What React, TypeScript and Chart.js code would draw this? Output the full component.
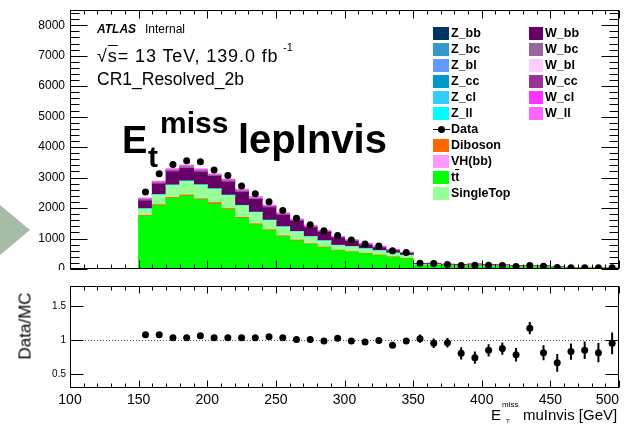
import React, { useEffect, useRef } from 'react';
import { Chart, registerables } from 'chart.js';

Chart.register(...registerables);

const FONT = '"Liberation Sans", Arial, Helvetica, sans-serif';
Chart.defaults.font.family = FONT;
Chart.defaults.color = '#000';

// ---------------- data ----------------
const binCenters = [105, 115, 125, 135, 145, 155, 165, 175, 185, 195, 205, 215, 225, 235, 245, 255, 265, 275, 285, 295, 305, 315, 325, 335, 345, 355, 365, 375, 385, 395, 405, 415, 425, 435, 445, 455, 465, 475, 485, 495];

const ttbar = [0, 0, 0, 0, 0, 1725, 2077, 2309, 2390, 2269, 2122, 1950, 1662, 1451, 1258, 1060, 920, 800, 696, 598, 546, 493, 436, 380, 330, 118, 122, 101, 92, 105, 91, 85, 70, 63, 72, 49, 31, 34, 32, 31];
const diboson = [0, 0, 0, 0, 0, 28, 30, 33, 35, 32, 55, 30, 30, 28, 25, 24, 24, 22, 20, 15, 17, 18, 18, 15, 13, 4, 4, 3, 3, 3, 3, 2, 2, 2, 2, 1, 1, 1, 1, 1];
const singleTop = [0, 0, 0, 0, 0, 210, 317, 396, 444, 444, 437, 428, 380, 369, 304, 286, 271, 228, 196, 155, 163, 142, 135, 116, 99, 27, 28, 23, 21, 24, 21, 20, 16, 15, 17, 11, 7, 8, 7, 7];
const zbb = [0, 0, 0, 0, 0, 4, 5, 6, 6, 6, 5, 5, 5, 5, 4, 4, 4, 4, 3, 3, 3, 3, 3, 3, 2, 1, 1, 1, 1, 1, 1, 1, 0, 0, 0, 0, 0, 0, 0, 0];
const zbc = [0, 0, 0, 0, 0, 2, 2, 3, 3, 3, 2, 2, 2, 2, 2, 2, 2, 2, 2, 1, 1, 1, 1, 1, 1, 0, 0, 0, 0, 0, 0, 0, 0, 0, 0, 0, 0, 0, 0, 0];
const zbl = [0, 0, 0, 0, 0, 3, 3, 4, 4, 4, 3, 3, 3, 3, 3, 3, 3, 2, 2, 2, 2, 2, 2, 2, 1, 0, 0, 0, 0, 0, 0, 0, 0, 0, 0, 0, 0, 0, 0, 0];
const zcc = [0, 0, 0, 0, 0, 3, 4, 4, 5, 4, 4, 4, 4, 4, 3, 3, 3, 3, 3, 2, 2, 2, 2, 2, 2, 1, 1, 0, 0, 0, 0, 0, 0, 0, 0, 0, 0, 0, 0, 0];
const zcl = [0, 0, 0, 0, 0, 3, 3, 4, 4, 4, 3, 3, 3, 3, 3, 3, 3, 3, 2, 2, 2, 2, 2, 2, 2, 0, 0, 0, 0, 0, 0, 0, 0, 0, 0, 0, 0, 0, 0, 0];
const zll = [0, 0, 0, 0, 0, 2, 2, 3, 3, 3, 3, 2, 2, 2, 2, 2, 2, 2, 2, 1, 1, 1, 1, 1, 1, 0, 0, 0, 0, 0, 0, 0, 0, 0, 0, 0, 0, 0, 0, 0];
const wbb = [0, 0, 0, 0, 0, 251, 340, 423, 403, 405, 404, 424, 424, 409, 403, 370, 330, 286, 272, 236, 167, 110, 90, 72, 56, 22, 23, 19, 17, 19, 17, 16, 13, 12, 13, 9, 6, 6, 6, 6];
const wbc = [0, 0, 0, 0, 0, 30, 32, 36, 38, 36, 28, 32, 32, 32, 28, 26, 24, 22, 20, 16, 16, 18, 18, 15, 12, 2, 2, 2, 2, 3, 2, 2, 2, 1, 2, 1, 1, 1, 1, 1];
const wbl = [0, 0, 0, 0, 0, 6, 5, 6, 6, 6, 4, 6, 6, 6, 5, 5, 5, 4, 4, 3, 3, 4, 4, 3, 3, 1, 1, 1, 1, 1, 1, 1, 0, 0, 0, 0, 0, 0, 0, 0];
const wcc = [0, 0, 0, 0, 0, 12, 11, 13, 13, 13, 8, 12, 12, 12, 10, 10, 10, 9, 8, 6, 7, 8, 8, 6, 6, 1, 2, 1, 2, 2, 1, 1, 1, 1, 1, 1, 0, 1, 0, 0];
const wcl = [0, 0, 0, 0, 0, 18, 17, 19, 19, 19, 12, 17, 17, 18, 16, 15, 14, 14, 12, 10, 10, 12, 12, 10, 8, 2, 2, 2, 2, 2, 2, 2, 2, 2, 2, 2, 1, 1, 1, 1];
const wll = [0, 0, 0, 0, 0, 22, 24, 26, 26, 26, 20, 24, 24, 22, 20, 20, 18, 18, 16, 12, 12, 14, 14, 11, 10, 1, 1, 1, 1, 1, 1, 1, 1, 1, 1, 1, 1, 1, 1, 0];
const vhbb = [0, 0, 0, 0, 0, 12, 13, 14, 15, 14, 10, 12, 12, 12, 10, 10, 9, 9, 8, 6, 6, 6, 6, 5, 4, 1, 1, 1, 1, 1, 1, 1, 1, 0, 0, 0, 0, 0, 0, 0];

const dataCounts = [null, null, null, null, null, 2525, 3125, 3431, 3551, 3518, 3245, 3072, 2723, 2473, 2211, 1917, 1667, 1449, 1253, 1100, 948, 817, 752, 599, 545, 186, 180, 150, 115, 120, 120, 115, 85, 115, 90, 50, 40, 45, 40, 45];

const ratio = [null, null, null, null, null, 1.083, 1.083, 1.04, 1.04, 1.07, 1.04, 1.04, 1.04, 1.04, 1.055, 1.04, 1.015, 1.015, 0.99, 1.03, 0.99, 0.977, 1.0, 0.93, 0.99, 1.025, 0.957, 0.967, 0.81, 0.745, 0.855, 0.88, 0.79, 1.18, 0.817, 0.67, 0.836, 0.855, 0.82, 0.957];
const ratioErr = [null, null, null, null, null, 0.02, 0.02, 0.02, 0.02, 0.02, 0.02, 0.02, 0.02, 0.02, 0.02, 0.02, 0.02, 0.02, 0.02, 0.02, 0.03, 0.03, 0.03, 0.035, 0.04, 0.06, 0.07, 0.07, 0.09, 0.09, 0.09, 0.09, 0.1, 0.09, 0.11, 0.13, 0.12, 0.13, 0.14, 0.16];

const yTopTicks = [0, 1000, 2000, 3000, 4000, 5000, 6000, 7000, 8000];
const yRatioTicks = [0.5, 1, 1.5];
const xTicks = [100, 150, 200, 250, 300, 350, 400, 450, 500];

// stacking order, bottom -> top
const samples = [
  { label: 'tt', data: ttbar, color: '#00ff00' },
  { label: 'Diboson', data: diboson, color: '#ff6600' },
  { label: 'SingleTop', data: singleTop, color: '#99ff99' },
  { label: 'Z_ll', data: zll, color: '#00ffff' },
  { label: 'Z_cl', data: zcl, color: '#33ccff' },
  { label: 'Z_cc', data: zcc, color: '#0099cc' },
  { label: 'Z_bl', data: zbl, color: '#6699ff' },
  { label: 'Z_bc', data: zbc, color: '#3399cc' },
  { label: 'Z_bb', data: zbb, color: '#003366' },
  { label: 'W_bb', data: wbb, color: '#660066' },
  { label: 'W_bc', data: wbc, color: '#996699' },
  { label: 'W_cc', data: wcc, color: '#993399' },
  { label: 'W_bl', data: wbl, color: '#ffccff' },
  { label: 'W_cl', data: wcl, color: '#ff33ff' },
  { label: 'W_ll', data: wll, color: '#ff66ff' },
  { label: 'VH(bb)', data: vhbb, color: '#ff99ff' },
];

const colorOf = (name: string) => samples.find((s) => s.label === name)!.color;

// ---------------- plugins ----------------
function frameTicks(cfg: any) {
  return {
    id: 'frameTicks',
    afterDraw(chart: any) {
      const { ctx, chartArea: a } = chart;
      const xs = chart.scales.x;
      const ys = chart.scales.y;
      const L = Math.round(a.left) + 0.5;
      const R = Math.round(a.right) - 0.5;
      const T = Math.round(a.top) + 0.5;
      const B = Math.round(a.bottom) - 0.5;
      const vals = (min: number, max: number, step: number) => {
        const out: number[] = [];
        const n0 = Math.ceil(min / step - 1e-9);
        const n1 = Math.floor(max / step + 1e-9);
        for (let n = n0; n <= n1; n++) out.push(n * step);
        return out;
      };
      const isMul = (v: number, s: number) => Math.abs(v / s - Math.round(v / s)) < 1e-6;
      ctx.save();
      ctx.strokeStyle = '#000';
      ctx.lineWidth = 1;
      ctx.beginPath();
      for (const v of vals(xs.min, xs.max, cfg.xMinor)) {
        const len = isMul(v, cfg.xMajor) ? cfg.xMajLen : cfg.xMinLen;
        const px = Math.round(xs.getPixelForValue(v)) + 0.5;
        ctx.moveTo(px, B);
        ctx.lineTo(px, B - len);
        ctx.moveTo(px, T);
        ctx.lineTo(px, T + len);
      }
      for (const v of vals(ys.min, ys.max, cfg.yMinor)) {
        const major = isMul(v, cfg.yMajor);
        if (!major && !cfg.drawYMinor) continue;
        const py = Math.round(ys.getPixelForValue(v)) + 0.5;
        const lenL = major ? cfg.yMajLenL : cfg.yMinLenL;
        const lenR = major ? cfg.yMajLenR : cfg.yMinLenR;
        ctx.moveTo(L, py);
        ctx.lineTo(L + lenL, py);
        ctx.moveTo(R, py);
        ctx.lineTo(R - lenR, py);
      }
      ctx.stroke();
      ctx.strokeRect(L, T, R - L, B - T);
      ctx.restore();
    },
  };
}

const ratioExtras = {
  id: 'ratioExtras',
  beforeDatasetsDraw(chart: any) {
    const { ctx, chartArea: a } = chart;
    const ys = chart.scales.y;
    const py = Math.round(ys.getPixelForValue(1)) + 0.5;
    ctx.save();
    ctx.strokeStyle = '#555';
    ctx.lineWidth = 1;
    ctx.setLineDash([1, 2]);
    ctx.beginPath();
    ctx.moveTo(a.left, py);
    ctx.lineTo(a.right, py);
    ctx.stroke();
    ctx.restore();
  },
  afterDatasetsDraw(chart: any) {
    const { ctx } = chart;
    const xs = chart.scales.x;
    const ys = chart.scales.y;
    ctx.save();
    ctx.strokeStyle = '#000';
    ctx.lineWidth = 2;
    ctx.beginPath();
    binCenters.forEach((c, i) => {
      const r = ratio[i];
      const e = ratioErr[i];
      if (r == null || e == null) return;
      const px = xs.getPixelForValue(c);
      ctx.moveTo(px, ys.getPixelForValue(r - e));
      ctx.lineTo(px, ys.getPixelForValue(r + e));
    });
    ctx.stroke();
    ctx.restore();
  },
};

// ---------------- overlay text helpers ----------------
function Txt(props: any) {
  const { x, base, size, bold, italic, children, style } = props;
  return (
    <div
      style={{
        position: 'absolute',
        left: x,
        top: base - 0.85 * size,
        fontSize: size,
        lineHeight: `${size}px`,
        fontWeight: bold ? 'bold' : 'normal',
        fontStyle: italic ? 'italic' : 'normal',
        whiteSpace: 'nowrap',
        color: '#000',
        ...(style || {}),
      }}
    >
      {children}
    </div>
  );
}

function Swatch(props: any) {
  const { x, cy, w, color } = props;
  return <div style={{ position: 'absolute', left: x, top: cy - 6.5, width: w, height: 13, background: color }} />;
}

const legendLeft = ['Z_bb', 'Z_bc', 'Z_bl', 'Z_cc', 'Z_cl', 'Z_ll'];
const legendRight = ['W_bb', 'W_bc', 'W_bl', 'W_cc', 'W_cl', 'W_ll'];
const legendLower = ['Diboson', 'VH(bb)', 'tt', 'SingleTop'];

const zeroPad = (scale: any) => {
  scale.paddingTop = 0;
  scale.paddingBottom = 0;
  scale.paddingLeft = 0;
  scale.paddingRight = 0;
};

const LEG = 12.5;

export default function App() {
  const topRef = useRef<HTMLCanvasElement>(null);
  const botRef = useRef<HTMLCanvasElement>(null);

  useEffect(() => {
    const barSets = samples.map((s) => ({
      type: 'bar',
      label: s.label,
      data: binCenters.map((x, i) => ({ x, y: s.data[i] === 0 && s.label !== 'tt' ? null : s.data[i] })),
      backgroundColor: s.color,
      borderWidth: 0,
      barPercentage: 1,
      categoryPercentage: 1,
      inflateAmount: 0.5,
      stack: 'mc',
      order: 1,
    }));
    const dataSet = {
      type: 'line',
      label: 'Data',
      data: binCenters.map((x, i) => ({ x, y: dataCounts[i] })),
      showLine: false,
      pointRadius: 3.5,
      pointBorderWidth: 0,
      pointBackgroundColor: '#000',
      pointBorderColor: '#000',
      stack: 'data',
      order: 0,
    };

    const top = new Chart(topRef.current!, {
      type: 'bar',
      data: { datasets: [...barSets, dataSet] as any },
      options: {
        animation: false,
        responsive: false,
        devicePixelRatio: 1,
        events: [],
        layout: { autoPadding: false, padding: { left: 0, right: 13, top: 10, bottom: 1 } },
        plugins: { legend: { display: false }, tooltip: { enabled: false } },
        scales: {
          x: {
            type: 'linear',
            min: 100,
            max: 500,
            offset: false,
            stacked: true,
            display: false,
            afterFit: (scale: any) => {
              scale.height = 0;
              zeroPad(scale);
            },
          },
          y: {
            type: 'linear',
            min: 0,
            max: 8500,
            stacked: true,
            grid: { display: false, drawTicks: false },
            border: { display: false },
            afterBuildTicks: (scale: any) => {
              scale.ticks = yTopTicks.map((v) => ({ value: v }));
            },
            ticks: { padding: 5, color: '#000', font: { size: 12, family: FONT }, callback: (v: any) => String(v) },
            afterFit: (scale: any) => {
              scale.width = 70;
              zeroPad(scale);
            },
          },
        },
      } as any,
      plugins: [
        frameTicks({ xMajor: 50, xMinor: 10, xMajLen: 8, xMinLen: 4, yMajor: 1000, yMinor: 200, drawYMinor: true, yMajLenL: 17, yMinLenL: 9, yMajLenR: 17, yMinLenR: 9 }),
      ],
    });

    const bot = new Chart(botRef.current!, {
      type: 'scatter',
      data: {
        datasets: [
          {
            label: 'Data/MC',
            data: binCenters.map((x, i) => ({ x, y: ratio[i] })),
            pointRadius: 3.5,
            pointBorderWidth: 0,
            pointBackgroundColor: '#000',
            pointBorderColor: '#000',
          },
        ] as any,
      },
      options: {
        animation: false,
        responsive: false,
        devicePixelRatio: 1,
        events: [],
        layout: { autoPadding: false, padding: { left: 0, right: 13, top: 16, bottom: 24 } },
        plugins: { legend: { display: false }, tooltip: { enabled: false } },
        scales: {
          x: {
            type: 'linear',
            min: 100,
            max: 500,
            offset: false,
            grid: { display: false, drawTicks: false },
            border: { display: false },
            afterBuildTicks: (scale: any) => {
              scale.ticks = xTicks.map((v) => ({ value: v }));
            },
            ticks: {
              padding: 4,
              color: '#000',
              maxRotation: 0,
              autoSkip: false,
              font: { size: 14, family: FONT },
              callback: (v: any) => (v === 500 ? '500\u00a0\u00a0\u00a0\u00a0\u00a0\u00a0' : String(v)),
            },
            afterFit: (scale: any) => {
              scale.height = 20;
              zeroPad(scale);
            },
          },
          y: {
            type: 'linear',
            min: 0.3,
            max: 1.8,
            grid: { display: false, drawTicks: false },
            border: { display: false },
            afterBuildTicks: (scale: any) => {
              scale.ticks = yRatioTicks.map((v) => ({ value: v }));
            },
            ticks: { padding: 4, color: '#000', font: { size: 10, family: FONT }, callback: (v: any) => String(v) },
            afterFit: (scale: any) => {
              scale.width = 70;
              zeroPad(scale);
            },
          },
        },
      } as any,
      plugins: [
        ratioExtras,
        frameTicks({ xMajor: 50, xMinor: 10, xMajLen: 7, xMinLen: 4, yMajor: 0.5, yMinor: 0.5, drawYMinor: false, yMajLenL: 13, yMinLenL: 0, yMajLenR: 13, yMinLenR: 0 }),
      ],
    });

    return () => {
      top.destroy();
      bot.destroy();
    };
  }, []);

  const rowY = (i: number) => 33 + i * 16;

  return (
    <div style={{ position: 'absolute', left: 0, top: 0, width: 632, height: 432, overflow: 'hidden', background: '#fff', fontFamily: FONT }}>
      <svg width={40} height={432} style={{ position: 'absolute', left: 0, top: 0 }}>
        <polygon points="0,205 30,230 0,255" fill="#a6bca6" />
      </svg>
      <canvas ref={topRef} width={632} height={270} style={{ position: 'absolute', left: 0, top: 0 }} />
      <canvas ref={botRef} width={632} height={162} style={{ position: 'absolute', left: 0, top: 270 }} />

      {/* ATLAS labels */}
      <Txt x={97} base={33} size={12} bold italic>ATLAS</Txt>
      <Txt x={145} base={33} size={12}>Internal</Txt>
      <Txt x={97} base={62} size={18} style={{ letterSpacing: 0.9 }}>
        √<span style={{ textDecoration: 'overline' }}>s</span>= 13 TeV, 139.0 fb
      </Txt>
      <Txt x={283} base={51} size={11}>-1</Txt>
      <Txt x={97} base={86} size={17.5}>CR1_Resolved_2b</Txt>

      {/* big title */}
      <Txt x={122} base={153} size={38} bold>E</Txt>
      <Txt x={148} base={167} size={30} bold>t</Txt>
      <Txt x={160} base={133} size={30} bold>miss</Txt>
      <Txt x={238} base={153} size={40} bold>lepInvis</Txt>

      {/* legend */}
      {legendLeft.map((n, i) => (
        <React.Fragment key={n}>
          <Swatch x={433} cy={rowY(i)} w={16} color={colorOf(n)} />
          <Txt x={451} base={rowY(i) + 4.4} size={LEG} bold>{n}</Txt>
        </React.Fragment>
      ))}
      {legendRight.map((n, i) => (
        <React.Fragment key={n}>
          <Swatch x={529} cy={rowY(i)} w={14} color={colorOf(n)} />
          <Txt x={545} base={rowY(i) + 4.4} size={LEG} bold>{n}</Txt>
        </React.Fragment>
      ))}
      <div style={{ position: 'absolute', left: 433, top: rowY(6), width: 17, height: 1, background: '#000' }} />
      <div style={{ position: 'absolute', left: 438, top: rowY(6) - 3, width: 7, height: 7, borderRadius: '50%', background: '#000' }} />
      <Txt x={451} base={rowY(6) + 4.4} size={LEG} bold>Data</Txt>
      {legendLower.map((n, i) => (
        <React.Fragment key={n}>
          <Swatch x={433} cy={rowY(7 + i)} w={16} color={colorOf(n)} />
          <Txt x={451} base={rowY(7 + i) + 4.4} size={LEG} bold>
            {n === 'tt' ? (
              <span>
                t<span style={{ textDecoration: 'overline' }}>t</span>
              </span>
            ) : (
              n
            )}
          </Txt>
        </React.Fragment>
      ))}

      {/* ratio y title */}
      <div
        style={{
          position: 'absolute',
          left: 24.5,
          top: 326,
          fontSize: 17,
          lineHeight: '17px',
          whiteSpace: 'nowrap',
          transform: 'translate(-50%, -50%) rotate(-90deg)',
          color: '#000',
        }}
      >
        Data/MC
      </div>

      {/* x axis title */}
      <Txt x={491} base={420} size={15}>E</Txt>
      <Txt x={502} base={408} size={8}>miss</Txt>
      <Txt x={506} base={423} size={6}>T</Txt>
      <Txt x={523} base={420} size={15}>muInvis [GeV]</Txt>
    </div>
  );
}
